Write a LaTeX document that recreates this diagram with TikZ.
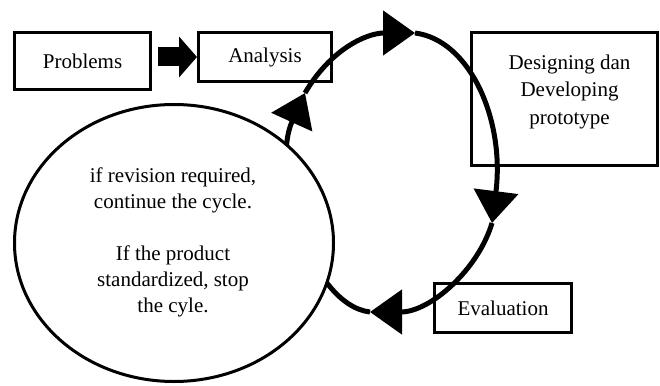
\documentclass[tikz,border=0pt]{standalone}
\usepackage{fontspec}
\setmainfont{Liberation Serif}
\usetikzlibrary{arrows.meta,positioning,shapes.geometric}

\begin{document}
\begin{tikzpicture}[
  x=1pt, y=-1pt,
  font=\fontsize{21}{26}\selectfont,
  stage/.style={rectangle,draw,line width=3pt,minimum height=49pt,inner sep=0pt},
  cyc/.style={-{Triangle[length=32pt,width=44pt]},line width=5pt},
  fat/.style={-{Triangle[length=18pt,width=40pt]},line width=19pt}
]
\useasboundingbox (0,0) rectangle (660,385);
% top row
\node[stage, minimum width=136pt, minimum height=57pt] (prob) at (82.5,61) {Problems};
\node[stage, minimum width=133pt] (anal) at (265,57) {Analysis};
\node[stage, minimum width=186pt, minimum height=133pt] (design) at (564.5,99) {};
\node[align=center, anchor=north, font=\fontsize{21}{27.5}\selectfont] (designtxt) at ([xshift=5pt,yshift=-20pt]design.north) {Designing dan\\Developing\\prototype};
\node[stage, minimum width=137pt] (eval) at (503,308) {Evaluation};
\draw[fat, shorten <=6pt] (anal.west -| prob.east) -- (anal.west);
% the cycle
\coordinate (tipL) at (305,93);
\coordinate (tipT) at (415,33);
\coordinate (tipR) at (492,223);
\coordinate (tipB) at (370,312);
\draw[cyc] (tipL) .. controls (330,50) and (366,33) .. (tipT);
\draw[cyc] (tipT) .. controls (470,40) and (505,120) .. (tipR);
\draw[cyc] (tipR) .. controls (478,270) and (430,312) .. (tipB);
\draw[cyc] (tipB) .. controls (310,305) and (270,170) .. (tipL);
% the decision
\node[ellipse, draw, line width=3pt, fill=white, minimum width=319pt, minimum height=277pt] (loop) at (174,243) {};
\node[align=center] (looptxt) at (173,242) {if revision required,\\continue the cycle.\\ \mbox{}\\If the product\\standardized, stop\\the cyle.};
\end{tikzpicture}
\end{document}
